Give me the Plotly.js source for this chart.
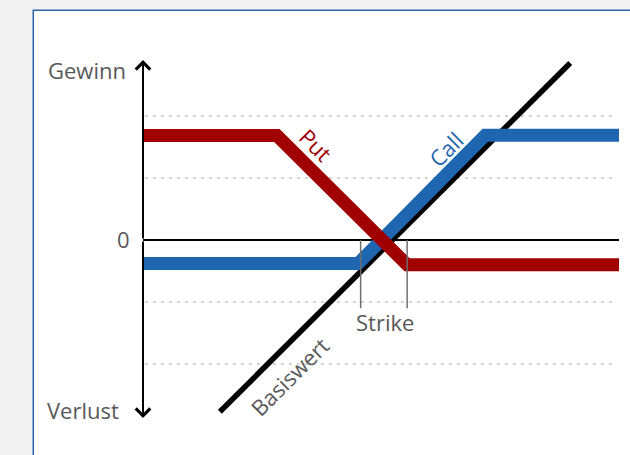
<!DOCTYPE html>
<html><head><meta charset="utf-8">
<script src="https://cdn.plot.ly/plotly-3.0.1.min.js"></script>
<style>html,body{margin:0;padding:0;background:#f2f2f2;}#chart{width:630px;height:455px;}</style>
</head><body><div id="chart"></div>
<script>
// Payoff profiles (x = price of underlying, y = profit/loss)
const putX = [0, 2.16, 4.26, 7.677];
const putY = [1.685, 1.685, -0.40, -0.40];
const callX = [0, 3.47, 5.52, 7.677];
const callY = [-0.38, -0.38, 1.69, 1.69];
const baseX = [1.24, 6.89];
const baseY = [-2.77, 2.855];
const strikeX = [3.51, 4.26];
const strikeBottom = -1.10;
const gridLevels = [2, 1, -1, -2];
const gridStart = 0.03, gridEnd = 7.58;
const zeroX = [0, 7.677];
const axisTop = 2.903, axisBottom = -2.871;
const labels = {gain: 'Gewinn', loss: 'Verlust', zero: '0', strike: 'Strike', put: 'Put', call: 'Call', base: 'Basiswert'};

const grey = '#595959';
const font = {family: '"Open Sans", "Noto Sans", sans-serif', size: 22, color: grey};
const traces = [];
gridLevels.forEach(g => traces.push({x: [gridStart, gridEnd], y: [g, g], mode: 'lines', line: {color: '#a6a6a6', width: 1.2, dash: '3px,5px'}, hoverinfo: 'skip'}));
traces.push({x: baseX, y: baseY, mode: 'lines', line: {color: '#000', width: 5.5}});
traces.push({x: zeroX, y: [0, 0], mode: 'lines', line: {color: '#000', width: 2}});
traces.push({x: callX, y: callY, mode: 'lines', line: {color: '#1f66b0', width: 13}});
traces.push({x: putX, y: putY, mode: 'lines', line: {color: '#a00000', width: 13}});
strikeX.forEach(s => traces.push({x: [s, s], y: [0, strikeBottom], mode: 'lines', line: {color: '#6e6e6e', width: 1.5}}));

function arrow(yEnd) {
  return {x: 0, y: yEnd, ax: 0, ay: 0, xref: 'x', yref: 'y', axref: 'x', ayref: 'y', text: '', showarrow: true,
    arrowhead: 4, arrowsize: 1.4, arrowwidth: 2, arrowcolor: '#000', standoff: 0, startstandoff: 0};
}
function label(text, x, y, xanchor, angle, color, xref) {
  return {x: x, y: y, xref: xref || 'x', yref: 'y', text: text, showarrow: false, xanchor: xanchor, yanchor: 'middle',
    textangle: angle || 0, font: Object.assign({}, font, {color: color || grey})};
}
const annotations = [
  arrow(axisTop), arrow(axisBottom),
  label(labels.gain, -0.0315, 2.74, 'right', 0, grey, 'paper'),
  label(labels.loss, -0.0462, -2.74, 'right', 0, grey, 'paper'),
  label(labels.zero, -0.024, 0.02, 'right', 0, grey, 'paper'),
  label(labels.strike, 3.90, -1.32, 'center'),
  label(labels.put, 2.80, 1.54, 'center', 45, '#a00000'),
  label(labels.call, 4.88, 1.47, 'center', -45, '#1f66b0'),
  label(labels.base, 2.37, -2.200, 'center', -45, grey)
];

const layout = {
  width: 630, height: 455,
  margin: {l: 143, r: 11, t: 50, b: 25},
  paper_bgcolor: '#f2f2f2', plot_bgcolor: 'rgba(0,0,0,0)',
  showlegend: false,
  xaxis: {range: [0, 7.677], visible: false, fixedrange: true},
  yaxis: {range: [-3.065, 3.065], visible: false, fixedrange: true},
  shapes: [{type: 'rect', xref: 'paper', yref: 'paper', x0: -0.2305, x1: 1.2, y0: -0.2, y1: 1.1045,
    line: {color: '#2a63a6', width: 1.5}, fillcolor: '#ffffff', layer: 'below'}],
  annotations: annotations
};
Plotly.newPlot('chart', traces, layout, {displayModeBar: false, staticPlot: true});
</script></body></html>
